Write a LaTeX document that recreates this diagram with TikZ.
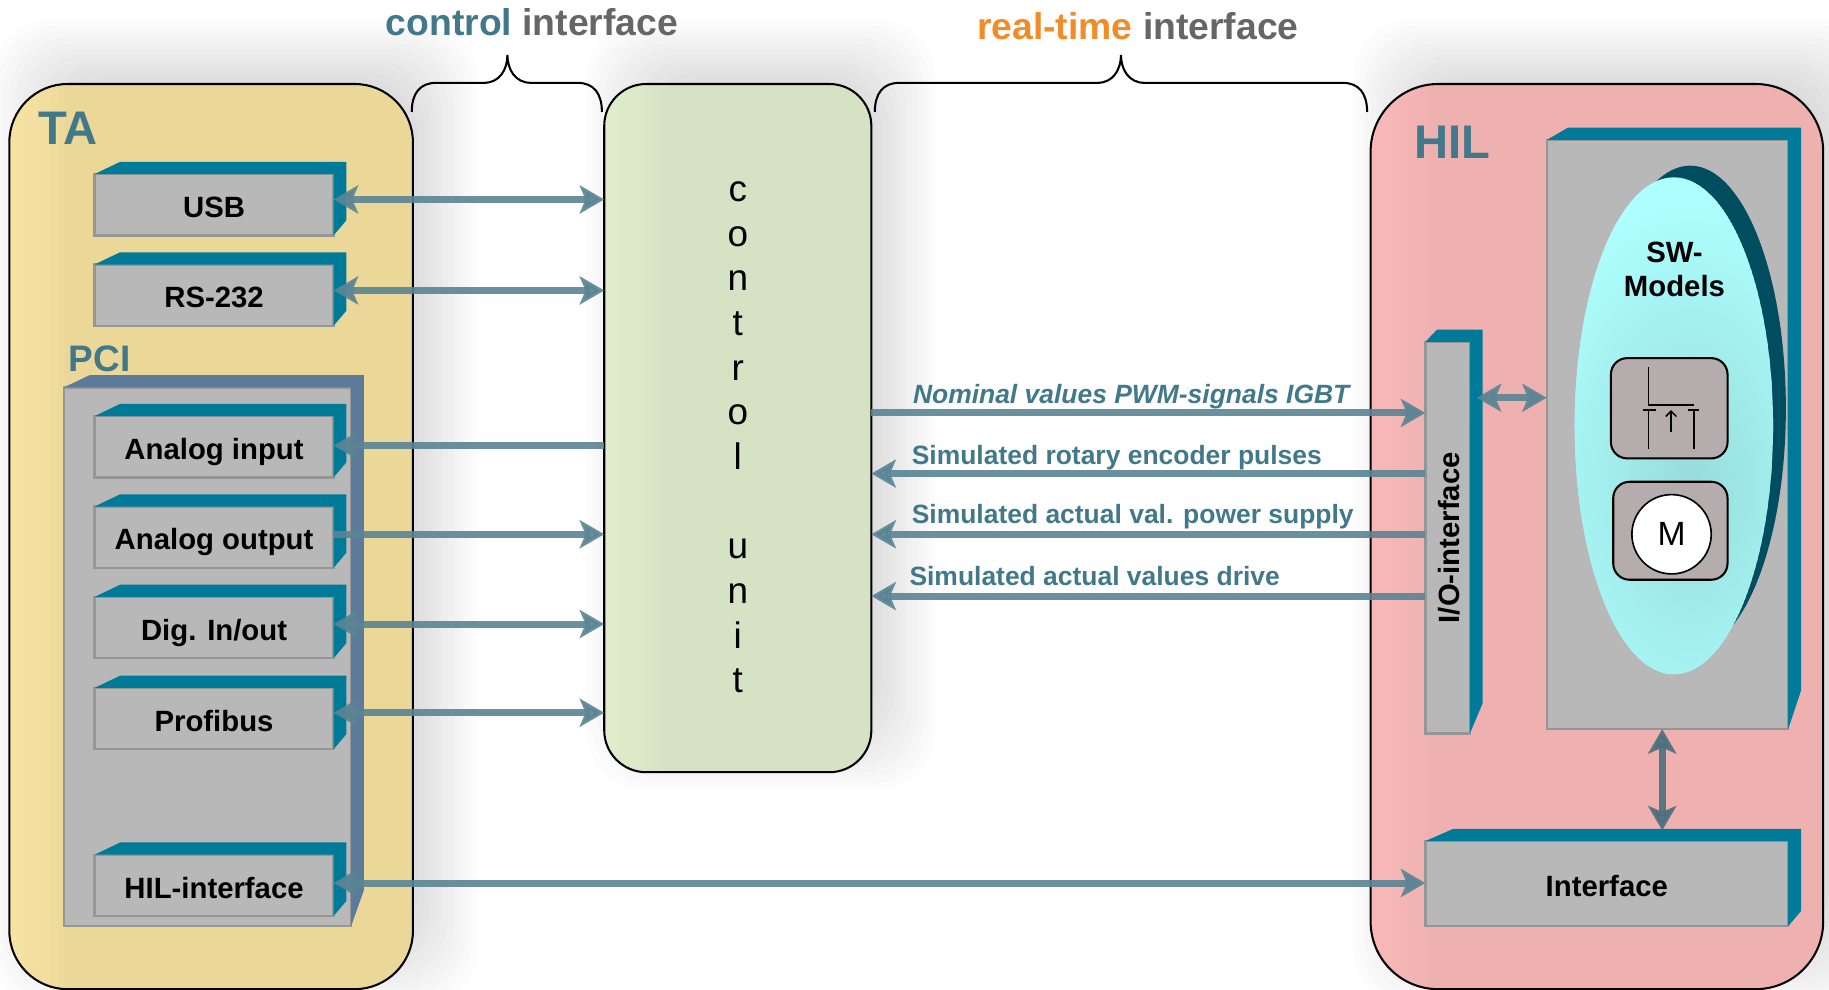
\documentclass[tikz,border=0pt]{standalone}
\usepackage{fontspec}
\setmainfont{Liberation Sans}
\usetikzlibrary{arrows.meta}
\usetikzlibrary{calc}
\definecolor{slabteal}{HTML}{007A99}
\definecolor{pciblue}{HTML}{5C7A99}
\definecolor{slabgrey}{HTML}{B8B8B8}
\definecolor{slabedge}{HTML}{969696}
\definecolor{headteal}{HTML}{41788A}
\definecolor{linkteal}{HTML}{5A8494}
\definecolor{talight}{HTML}{FBE7A8}
\definecolor{tabase}{HTML}{EBD798}
\definecolor{culight}{HTML}{E4F2D2}
\definecolor{cubase}{HTML}{D5E2C3}
\definecolor{hillight}{HTML}{FCBCBC}
\definecolor{hilbase}{HTML}{EFB0B0}
\definecolor{swcyan}{HTML}{AEFFFF}
\definecolor{swmid}{HTML}{98DCDC}
\definecolor{swdark}{HTML}{004D60}
\definecolor{swbox}{HTML}{B5ADAD}
\definecolor{realorange}{HTML}{F28C28}
\definecolor{ifgrey}{HTML}{666666}
\pgfdeclareverticalshading{crescentfade}{100bp}{color(0bp)=(slabgrey); color(12bp)=(slabgrey); color(30bp)=(swdark); color(100bp)=(swdark)}
\tikzset{
  panel/.style={inner sep=0,outer sep=0},
  front/.style={draw=slabedge,line width=.6pt,fill=slabgrey,inner sep=0,outer sep=0,align=center,text height=6.2pt,text depth=0pt,font=\fontsize{7.15}{8.5}\selectfont\bfseries},
  swinner/.style={draw=black,line width=.5pt,fill=swbox,rounded corners=.14cm,inner sep=0,outer sep=0},
  title/.style={text=headteal,inner sep=0,font=\fontsize{11.5}{13}\selectfont\bfseries},
  siglabel/.style={text=headteal,anchor=west,inner sep=0,font=\fontsize{6.45}{8}\selectfont\bfseries},
  head/.style={inner sep=0,font=\fontsize{9.1}{11}\selectfont\bfseries},
  wave/.style={draw=linkteal,line width=.06cm,opacity=.9},
  twoway/.style={wave,{Stealth[length=.21cm,width=.24cm,inset=.05cm]}-{Stealth[length=.21cm,width=.24cm,inset=.05cm]}},
  into/.style={wave,{Stealth[length=.21cm,width=.24cm,inset=.05cm]}-},
  outof/.style={wave,-{Stealth[length=.21cm,width=.24cm,inset=.05cm]}},
  bracket/.style={draw=black,line width=.5pt}
}
\newcommand{\softshadow}[4]{
  \foreach \k in {1,...,14}{
    \fill[black,opacity=.011,rounded corners=.5cm] ({#1+.2-(\k-7)*.05},{#2-.2-(\k-7)*.05}) rectangle ({#3+.2+(\k-7)*.05},{#4-.2+(\k-7)*.05});
  }
}
\newcommand{\slabside}[4]{
  \fill[#4] (#1.north west) -- ++(#2,-.105) -- ($(#1.north east)+(.11,-.105)$) -- ($(#1.south east)+(.11,-#3)$) -- (#1.south east) -- (#1.north east) -- cycle;
}
\newcommand{\curly}[3]{
  \draw[bracket] (#1,.96) .. controls (#1,.8) and ({#1+.07},.71) .. ({#1+.21},.71) -- ({#2-.2},.71)
    .. controls ({#2-.07},.71) and (#2,.6) .. (#2,.47) .. controls (#2,.6) and ({#2+.07},.71) .. ({#2+.2},.71)
    -- ({#3-.21},.71) .. controls ({#3-.07},.71) and (#3,.8) .. (#3,.96);
}
\begin{document}
\begin{tikzpicture}[y=-1cm]
\useasboundingbox (0,0) rectangle (15.68,8.48);

% shadows
\softshadow{.08}{.72}{3.54}{8.48}
\softshadow{5.18}{.72}{7.47}{6.62}
\softshadow{11.75}{.72}{15.63}{8.48}

% the three blocks
\node[panel,minimum width=3.46cm,minimum height=7.76cm] (ta) at (1.81,4.6) {};
\node[panel,minimum width=2.29cm,minimum height=5.9cm] (ctrlbox) at (6.325,3.67) {};
\node[panel,minimum width=3.88cm,minimum height=7.76cm] (hil) at (13.69,4.6) {};
\foreach \nm/\rad/\base/\light in {ta/.5cm/tabase/talight,ctrlbox/.36cm/cubase/culight,hil/.58cm/hilbase/hillight}{
  \begin{scope}
  \clip[rounded corners=\rad] (\nm.south west) rectangle (\nm.north east);
  \fill[\base] (\nm.south west) rectangle (\nm.north east);
  \foreach \k in {1,...,8}{
    \fill[\light,opacity=.18] (\nm.south west) rectangle ([xshift=\k*.06cm]\nm.north west);
    \fill[\light,opacity=.05] (\nm.south west) rectangle ([yshift=\k*.06cm]\nm.south east);
  }
  \end{scope}
  \draw[black,line width=.5pt,rounded corners=\rad] (\nm.south west) rectangle (\nm.north east);
}
\node[inner sep=0,align=center,font=\fontsize{9}{10.9}\selectfont] (ctrl) at (6.325,3.75) {c\\o\\n\\t\\r\\o\\l\\ \\u\\n\\i\\t};

\node[title] (talabel) at (.585,1.1) {TA};
\node[title] (hillabel) at (12.45,1.22) {HIL};
\node[title,font=\fontsize{9}{11}\selectfont\bfseries] (pcilabel) at (.855,3.08) {PCI};

% headings and braces
\node[head] (ctrlhead) at (4.56,.19) {\textcolor{headteal}{control} \textcolor{ifgrey}{interface}};
\node[head] (realhead) at (9.755,.22) {\textcolor{realorange}{real-time} \textcolor{ifgrey}{interface}};
\curly{3.53}{4.35}{5.16}
\curly{7.5}{9.61}{11.72}

% PCI carrier
\node[front,minimum width=2.46cm,minimum height=4.62cm] (pci) at (1.78,5.63) {};
\slabside{pci}{.22}{.31}{pciblue}

% slots
\foreach \nm/\yy/\txt in {usb/1.755/USB,rs/2.53/RS-232,ai/3.83/Analog input,ao/4.605/Analog output,dig/5.38/{Dig. In/out},prof/6.16/Profibus,hili/7.59/HIL-interface}{
  \node[front,minimum width=2.05cm,minimum height=.525cm] (\nm) at (1.835,\yy) {\txt};
  \slabside{\nm}{.22}{.13}{slabteal}
}

% HIL side
\node[front,minimum width=.38cm,minimum height=3.36cm] (io) at (12.41,4.61) {};
\slabside{io}{.1}{.26}{slabteal}
\node[rotate=90,inner sep=0,font=\fontsize{7.15}{8.5}\selectfont\bfseries] (iolabel) at (12.42,4.61) {I/O-interface};
\node[front,minimum width=2.07cm,minimum height=5.05cm] (sw) at (14.295,3.725) {};
\slabside{sw}{.18}{.33}{slabteal}
\node[front,minimum width=3.11cm,minimum height=.73cm] (iface) at (13.775,7.575) {Interface};
\slabside{iface}{.24}{.13}{slabteal}

% SW-Models oval
\shade[shading=crescentfade] (14.49,3.5) ellipse [x radius=.82,y radius=2.08];
\begin{scope}
\clip (14.35,3.65) ellipse [x radius=.85,y radius=2.13];
\fill[swcyan] (14.35,3.65) ellipse [x radius=.85,y radius=2.13];
\shade[inner color=swmid,outer color=swcyan] (14.5,4.15) ellipse [x radius=1.5,y radius=2.5];
\end{scope}
\node[inner sep=0,align=center,font=\fontsize{7.15}{8.5}\selectfont\bfseries] (swlabel) at (14.355,2.31) {SW-\\Models};

% IGBT and motor
\node[swinner,minimum width=1cm,minimum height=.86cm] (igbt) at (14.31,3.5) {};
\draw[line width=.35pt] (14.13,3.145) -- (14.13,3.472) -- (14.524,3.472);
\draw[line width=.35pt] (14.086,3.516) -- (14.198,3.516);
\draw[line width=.35pt] (14.47,3.516) -- (14.566,3.516);
\draw[line width=.35pt] (14.13,3.516) -- (14.13,3.85);
\draw[line width=.35pt] (14.524,3.516) -- (14.524,3.85);
\draw[line width=.35pt,-{Straight Barb[length=1.3pt,width=2.6pt]}] (14.326,3.7) -- (14.326,3.516);
\node[swinner,minimum width=.98cm,minimum height=.84cm] (motor) at (14.32,4.55) {};
\node[circle,draw=black,line width=.4pt,fill=white,minimum size=.68cm,inner sep=0,font=\fontsize{8.2}{9}\selectfont] (mot) at (14.33,4.58) {M};

% links to the control unit
\foreach \nm/\yy/\kind in {usb/1.71/twoway,rs/2.49/twoway,ai/3.82/into,ao/4.58/outof,dig/5.35/twoway,prof/6.11/twoway}{
  \draw[\kind] (\nm.east |- 0,\yy) -- (ctrlbox.west |- 0,\yy);
}
\draw[twoway] (hili.east |- 0,7.57) -- (iface.west |- 0,7.57);

% real-time links
\foreach \yy/\kind in {3.54/outof,4.06/into,4.58/into,5.11/into}{
  \draw[\kind] (ctrlbox.east |- 0,\yy) -- (io.west |- 0,\yy);
}
\node[siglabel,font=\fontsize{6.45}{8}\selectfont\bfseries\itshape] (sig1) at (7.82,3.4) {Nominal values PWM-signals IGBT};
\node[siglabel] (sig2) at (7.81,3.92) {Simulated rotary encoder pulses};
\node[siglabel] (sig3) at (7.81,4.43) {Simulated actual val. power supply};
\node[siglabel] (sig4) at (7.79,4.94) {Simulated actual values drive};

\coordinate (ioside) at (12.66,3.41);
\draw[twoway] (ioside) -- (sw.west |- ioside);
\coordinate (ifacetop) at (14.25,7.12);
\draw[twoway,draw=linkteal!85!black] (ifacetop |- sw.south) -- (ifacetop);
\end{tikzpicture}
\end{document}
